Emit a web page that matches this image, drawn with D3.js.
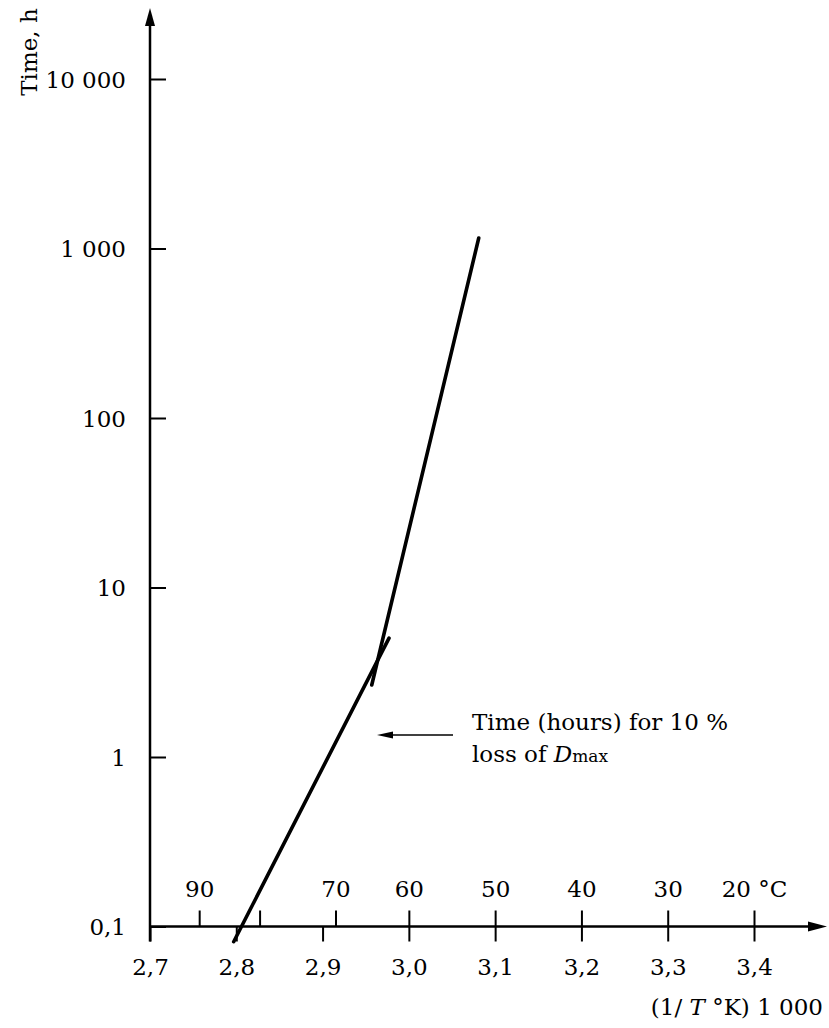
<!DOCTYPE html>
<html>
<head>
<meta charset="utf-8">
<script src="https://cdn.jsdelivr.net/npm/d3@7"></script>
<style>
  body { margin: 0; background: #fff; }
  svg text { font-family: "DejaVu Serif", serif; font-size: 23px; fill: #000; }
</style>
</head>
<body>
<svg id="chart" width="829" height="1028"></svg>
<script>
// values
const xTicks = [2.7, 2.8, 2.9, 3.0, 3.1, 3.2, 3.3, 3.4];
const xTickLabels = ["2,7", "2,8", "2,9", "3,0", "3,1", "3,2", "3,3", "3,4"];

const celsiusPos = [2.757, 2.827, 2.915, 3.0, 3.1, 3.2, 3.3, 3.4];
const celsiusLabels = ["90", "", "70", "60", "50", "40", "30", "20 °C"];

const yTicks = [0.1, 1, 10, 100, 1000, 10000];
const yTickLabels = ["0,1", "1", "10", "100", "1 000", "10 000"];

// the two straight segments (1/T * 1000, hours)
const lowX = [2.797, 2.977];
const lowT = [0.0813, 5.03];
const highX = [2.957, 3.081];
const highT = [2.66, 1153];

const svg = d3.select("#chart");

let x = d3.scaleLinear().domain([2.7, 3.4]).range([150, 754]);
let y = d3.scaleLog().domain([0.1, 10000]).range([926.5, 79]);

const x0 = x(2.7);
const y0 = y(0.1);

// x axis, 1/T ticks below
let xAxis = d3.axisBottom(x)
    .tickValues(xTicks)
    .tickSize(15)
    .tickPadding(17)
    .tickFormat((d, i) => xTickLabels[i]);

let gx = svg.append("g").attr("transform", `translate(0,${y0})`).call(xAxis);
gx.select(".domain").remove();
gx.selectAll(".tick line").attr("stroke", "#000").attr("stroke-width", 2);

// celsius ticks above
let cAxis = d3.axisTop(x)
    .tickValues(celsiusPos)
    .tickSize(16)
    .tickPadding(14)
    .tickFormat((d, i) => celsiusLabels[i]);

let gc = svg.append("g").attr("transform", `translate(0,${y0})`).call(cAxis);
gc.select(".domain").remove();
gc.selectAll(".tick line").attr("stroke", "#000").attr("stroke-width", 2);

// y axis, ticks pointing right
let yAxis = d3.axisLeft(y)
    .tickValues(yTicks)
    .tickSize(-16)
    .tickPadding(24)
    .tickFormat((d, i) => yTickLabels[i]);

let gy = svg.append("g").attr("transform", `translate(${x0},0)`).call(yAxis);
gy.select(".domain").remove();
gy.selectAll(".tick line").attr("stroke", "#000").attr("stroke-width", 2);
gy.selectAll(".tick text").attr("dy", "0.36em");

svg.selectAll(".tick text")
   .style("font-family", '"DejaVu Serif", serif')
   .style("font-size", "23px");

// axis lines with arrows
const xEnd = 808, xTip = 827;
const yEnd = 26, yTip = 8;

svg.append("line")
   .attr("x1", x0).attr("x2", xEnd)
   .attr("y1", y0).attr("y2", y0)
   .attr("stroke", "#000").attr("stroke-width", 2.5);
svg.append("path")
   .attr("d", `M${xTip},${y0} L${xEnd},${y0 - 5} L${xEnd},${y0 + 5} Z`)
   .attr("fill", "#000");

svg.append("line")
   .attr("x1", x0).attr("x2", x0)
   .attr("y1", y0 + 15).attr("y2", yEnd)
   .attr("stroke", "#000").attr("stroke-width", 2.5);
svg.append("path")
   .attr("d", `M${x0},${yTip} L${x0 - 5},${yEnd} L${x0 + 5},${yEnd} Z`)
   .attr("fill", "#000");

// data lines
let line = d3.line().x(d => x(d[0])).y(d => y(d[1]));

[[lowX, lowT], [highX, highT]].forEach(([xs, ts]) => {
    svg.append("path")
       .attr("d", line(d3.zip(xs, ts)))
       .attr("fill", "none")
       .attr("stroke", "#000")
       .attr("stroke-width", 3.6)
       .attr("stroke-linecap", "round");
});

// axis titles
svg.append("text")
   .attr("transform", "translate(37,52) rotate(-90)")
   .attr("text-anchor", "middle")
   .text("Time, h");

let xt = svg.append("text")
   .attr("x", 823).attr("y", 1015)
   .attr("text-anchor", "end");
xt.append("tspan").text("(1/");
xt.append("tspan").attr("font-style", "italic").text(" T");
xt.append("tspan").text(" °K) 1 000");

// annotation with arrow
svg.append("line")
   .attr("x1", 453).attr("x2", 390)
   .attr("y1", 735).attr("y2", 735)
   .attr("stroke", "#000").attr("stroke-width", 1.3);
svg.append("path")
   .attr("d", "M377,735 L393,731.5 L393,738.5 Z")
   .attr("fill", "#000");

svg.append("text").attr("x", 472).attr("y", 730).text("Time (hours) for 10 %");
let ann = svg.append("text").attr("x", 472).attr("y", 762);
ann.append("tspan").text("loss of ");
ann.append("tspan").attr("font-style", "italic").text("D");
ann.append("tspan").style("font-size", "17px").text("max");
</script>
</body>
</html>
